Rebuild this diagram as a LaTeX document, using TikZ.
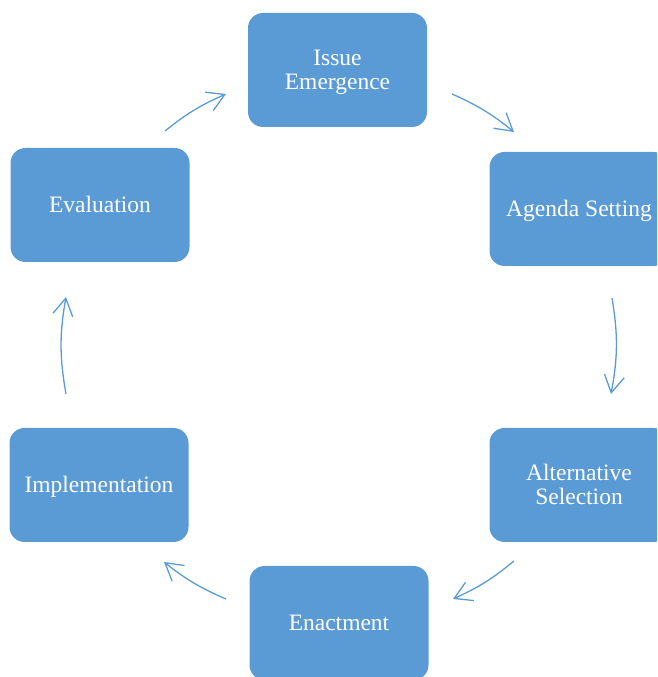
\documentclass[tikz,border=0pt]{standalone}
\usepackage{fontspec}
\setmainfont{Liberation Serif}
\usetikzlibrary{arrows.meta}
\definecolor{boxblue}{HTML}{5B9BD5}
\newcommand{\stgtxt}[1]{\raisebox{-2.5pt}[\height][\depth]{\begin{tabular}{@{}c@{}}#1\end{tabular}}}
\begin{document}
\begin{tikzpicture}[x=1pt,y=1pt,
  stagebox/.style={draw=none, fill=boxblue, rounded corners=15pt,
    minimum width=179pt, minimum height=114pt, inner sep=0pt,
    text=white, font=\fontsize{23.5}{24.5}\selectfont},
  cyc/.style={draw=boxblue, line width=1.3pt,
    -{Straight Barb[length=17pt,width=20pt,line width=1.3pt]}}]
\useasboundingbox (0,0) rectangle (657,677);
\clip (0,0) rectangle (657,677);
\node[stagebox] (issue) at (337.5,607) {\stgtxt{Issue\\Emergence}};
\node[stagebox] (agenda) at (579,468) {\stgtxt{Agenda Setting}};
\node[stagebox] (alt) at (579,192) {\stgtxt{Alternative\\Selection}};
\node[stagebox] (enact) at (339,54) {\stgtxt{Enactment}};
\node[stagebox] (impl) at (99,192) {\stgtxt{Implementation}};
\node[stagebox] (eval) at (100,472) {\stgtxt{Evaluation}};
\coordinate (a1s) at (165,546); \coordinate (a1e) at (226,583);
\coordinate (a2s) at (452,583); \coordinate (a2e) at (514,545);
\coordinate (a3s) at (612,379); \coordinate (a3e) at (611,283);
\coordinate (a4s) at (514,116); \coordinate (a4e) at (453,78);
\coordinate (a5s) at (226,78);  \coordinate (a5e) at (164,115);
\coordinate (a6s) at (66,283);  \coordinate (a6e) at (66,380);
\draw[cyc] (a1s) to[bend left=7.5] (a1e);
\draw[cyc] (a2s) to[bend left=7.5] (a2e);
\draw[cyc] (a3s) to[bend left=10] (a3e);
\draw[cyc] (a4s) to[bend left=7.5] (a4e);
\draw[cyc] (a5s) to[bend left=7.5] (a5e);
\draw[cyc] (a6s) to[bend left=10] (a6e);
\end{tikzpicture}
\end{document}
